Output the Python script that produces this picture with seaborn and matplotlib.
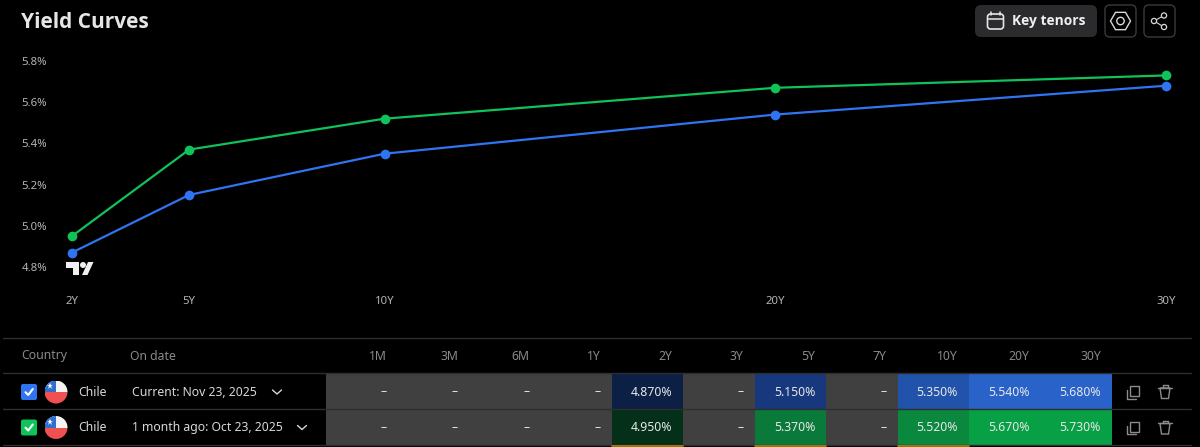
import numpy as np
import matplotlib
matplotlib.use("Agg")
import matplotlib.pyplot as plt
import seaborn as sns
import pandas as pd
from matplotlib.patches import Circle, FancyBboxPatch, Polygon, Rectangle, RegularPolygon

W, H = 1200, 447

# chart data
tenor_years = [2, 5, 10, 20, 30]
tenor_names = ["2Y", "5Y", "10Y", "20Y", "30Y"]
current_yield = [4.87, 5.15, 5.35, 5.54, 5.68]
month_ago_yield = [4.95, 5.37, 5.52, 5.67, 5.73]
y_ticks = [4.8, 5.0, 5.2, 5.4, 5.6, 5.8]

# table data
table_cols = ["1M", "3M", "6M", "1Y", "2Y", "3Y", "5Y", "7Y", "10Y", "20Y", "30Y"]
current_row = [np.nan, np.nan, np.nan, np.nan, 4.87, np.nan, 5.15, np.nan, 5.35, 5.54, 5.68]
month_ago_row = [np.nan, np.nan, np.nan, np.nan, 4.95, np.nan, 5.37, np.nan, 5.52, 5.67, 5.73]
row_dates = ["Current: Nov 23, 2025", "1 month ago: Oct 23, 2025"]
row_country = ["Chile", "Chile"]

BG = "#000000"
BLUE = "#2f74f0"
GREEN = "#10c25a"
GREY_TXT = "#8a8a8a"
LIGHT = "#d8d8d8"
LINE = "#2e2e2e"
CELL = "#404040"

sns.set_theme(style="dark", rc={"axes.facecolor": BG, "figure.facecolor": BG})
plt.rcParams["font.family"] = ["Noto Sans", "DejaVu Sans"]


def px_axes(fig, x0, y0, x1, y1, **kw):
    """Axes placed by pixel box, y counted from the top."""
    return fig.add_axes([x0 / W, 1 - y1 / H, (x1 - x0) / W, (y1 - y0) / H], **kw)


def draw_chart(fig):
    ax = px_axes(fig, 50, 45, 1185, 288)
    # 2Y sits at px 72, 30Y at px 1166; 5.8% at py 61, 4.8% at py 267
    per_year = (1166 - 72) / 28
    per_pct = (267 - 61) / 1.0
    ax.set_xlim(2 - (72 - 50) / per_year, 30 + (1185 - 1166) / per_year)
    ax.set_ylim(4.8 - (288 - 267) / per_pct, 5.8 + (61 - 45) / per_pct)

    df = pd.DataFrame({
        "tenor": tenor_years * 2,
        "yield": current_yield + month_ago_yield,
        "series": ["current"] * 5 + ["month_ago"] * 5,
    })
    sns.lineplot(data=df, x="tenor", y="yield", hue="series", ax=ax,
                 palette={"current": BLUE, "month_ago": GREEN},
                 marker="o", markersize=7, markeredgewidth=0, linewidth=1.6, legend=False)
    ax.set_xticks(tenor_years, tenor_names)
    ax.set_yticks(y_ticks, [f"{v:.1f}%" for v in y_ticks])
    ax.tick_params(axis="both", length=0, labelsize=8.2, colors="#b4b4b4")
    ax.tick_params(axis="x", pad=6)
    ax.tick_params(axis="y", pad=2)
    ax.set_xlabel("")
    ax.set_ylabel("")
    ax.grid(False)
    for s in ax.spines.values():
        s.set_visible(False)


def draw_row(fig, values, y0, y1, cmap, vmin, vmax):
    ax = px_axes(fig, 326, y0, 1112, y1)
    data = pd.DataFrame([values], columns=table_cols)
    sns.heatmap(data, ax=ax, cmap=cmap, vmin=vmin, vmax=vmax, cbar=False,
                xticklabels=False, yticklabels=False)
    ax.set_facecolor(CELL)
    ax.set_xlabel("")
    ax.set_ylabel("")


def draw_flag(ov, cx, cy, r=11.5):
    clip = Circle((cx, cy), r, transform=ov.transData, fc="none", ec="none")
    ov.add_patch(clip)
    for p in [Rectangle((cx - r, cy - r), 2 * r, r, fc="#f4f4f4", ec="none"),
              Rectangle((cx - r, cy), 2 * r, r, fc="#f05050", ec="none"),
              Rectangle((cx - r, cy - r), r, r, fc="#2f6fd0", ec="none")]:
        ov.add_patch(p)
        p.set_clip_path(clip)
    ov.plot([cx - r / 2], [cy - r / 2], marker="*", ms=5, color="white", mew=0, zorder=5)


def draw_checkbox(ov, cx, cy, color):
    ov.add_patch(FancyBboxPatch((cx - 6, cy - 6), 12, 12, boxstyle="round,pad=2,rounding_size=2",
                                fc=color, ec="none"))
    ov.plot([cx - 3.5, cx - 0.8, cx + 3.8], [cy + 0.2, cy + 3, cy - 3], color="white", lw=1.5,
            solid_capstyle="round")


def draw_chrome(ov):
    ov.text(21, 22, "Yield Curves", color="#e6e6e6", fontsize=15, fontweight="bold",
            family="Open Sans", va="center")

    # header buttons
    ov.add_patch(FancyBboxPatch((979, 9), 114, 24, boxstyle="round,pad=4,rounding_size=6",
                                fc="#2b2b2e", ec="none"))
    ov.add_patch(FancyBboxPatch((987.5, 14), 16, 15, boxstyle="round,pad=0,rounding_size=3",
                                fc="none", ec="#e6e6e6", lw=1.2))
    ov.plot([988, 1003], [18.5, 18.5], color="#e6e6e6", lw=1.1)
    ov.plot([991, 991], [12, 15], color="#e6e6e6", lw=1.1)
    ov.plot([1000, 1000], [12, 15], color="#e6e6e6", lw=1.1)
    ov.text(1012, 21, "Key tenors", color="#f0f0f0", fontsize=9.9, fontweight="bold",
            family="Open Sans", va="center")
    for x0 in (1105, 1144):
        ov.add_patch(FancyBboxPatch((x0 + 3, 8), 25, 26, boxstyle="round,pad=3,rounding_size=5",
                                    fc="none", ec="#3a3a3a", lw=1))
    ov.add_patch(RegularPolygon((1120.5, 21), 6, radius=10, orientation=np.pi / 2,
                                fc="none", ec=LIGHT, lw=1))
    ov.add_patch(Circle((1120.5, 21), 3.7, fc="none", ec=LIGHT, lw=1))
    sx, sy = [1164, 1154, 1164], [15.5, 21, 27]
    ov.plot(sx, sy, color=LIGHT, lw=0.8)
    for a, b in zip(sx, sy):
        ov.add_patch(Circle((a, b), 2.6, fc=BG, ec=LIGHT, lw=0.9, zorder=4))

    # logo
    ov.add_patch(Polygon([(66, 262), (79, 262), (79, 275), (73, 275), (73, 268), (66, 268)],
                         fc="#f0f0f0", ec="none"))
    ov.add_patch(Circle((83, 265), 3, fc="#f0f0f0", ec="none"))
    ov.add_patch(Polygon([(82, 275), (88, 262), (93.5, 262), (87.5, 275)], fc="#f0f0f0", ec="none"))

    # table rules
    for y in (338, 373, 409, 445):
        ov.plot([3, 1191], [y, y], color=LINE, lw=1)

    # table header
    ov.text(21, 356, "Country", color=GREY_TXT, fontsize=8.8, va="center")
    ov.text(130, 356, "On date", color=GREY_TXT, fontsize=8.8, va="center")
    for i, name in enumerate(table_cols):
        ov.text(326 + 71.45 * (i + 1) - 11, 356, name, color=GREY_TXT, fontsize=8.8, va="center", ha="right")

    # table rows
    for r, (values, color) in enumerate(zip([current_row, month_ago_row], [BLUE, GREEN])):
        cy = 392 + 35.5 * r
        draw_checkbox(ov, 29, cy, color)
        draw_flag(ov, 56, cy)
        ov.text(78, cy, row_country[r], color=LIGHT, fontsize=8.8, va="center")
        ov.text(132, cy, row_dates[r], color=LIGHT, fontsize=8.8, va="center")
        end = 277 if r == 0 else 302
        ov.plot([end - 4.5, end, end + 4.5], [cy - 2, cy + 2, cy - 2], color=LIGHT, lw=1)
        for i, v in enumerate(values):
            right = 326 + 71.45 * (i + 1) - 11
            txt = "–" if np.isnan(v) else f"{v:.3f}%"
            ov.text(right, cy, txt, color="#e8e8e8", fontsize=8.8, va="center", ha="right")
        # copy and delete icons
        ov.add_patch(Rectangle((1130, cy - 6), 9, 10, fc="none", ec="#8c8c8c", lw=1))
        ov.plot([1127, 1127, 1136], [cy - 2, cy + 6.5, cy + 6.5], color="#8c8c8c", lw=1)
        ov.add_patch(Polygon([(1160, cy - 4), (1161.5, cy + 6.5), (1168.5, cy + 6.5), (1170, cy - 4)],
                             fc="none", ec="#8c8c8c", lw=1))
        ov.plot([1158, 1172], [cy - 4.5, cy - 4.5], color="#8c8c8c", lw=1)
        ov.plot([1162.5, 1162.5, 1167.5, 1167.5], [cy - 4.5, cy - 7, cy - 7, cy - 4.5], color="#8c8c8c", lw=1)

    # amber strip under the changed cells
    for i in (4, 6, 8):
        x0 = 326 + 71.45 * i
        ov.plot([x0, x0 + 71.45], [445.8, 445.8], color="#b8860b", lw=1.2)


def main():
    fig = plt.figure(figsize=(W / 100, H / 100), dpi=100, facecolor=BG)
    draw_chart(fig)

    blues = sns.blend_palette(["#0c1f45", "#14306e", "#2050a5", "#2962c8"], as_cmap=True)
    greens = sns.blend_palette(["#04301a", "#0a7a3a", "#0a7a3a", "#07a044"], as_cmap=True)
    draw_row(fig, current_row, 374, 409, blues, 4.87, 5.54)
    draw_row(fig, month_ago_row, 410, 445, greens, 4.95, 5.67)

    ov = fig.add_axes([0, 0, 1, 1], facecolor="none", zorder=10)
    ov.set_xlim(0, W)
    ov.set_ylim(H, 0)
    ov.axis("off")
    draw_chrome(ov)

    fig.savefig("out.png", dpi=100, facecolor=BG)


if __name__ == "__main__":
    main()
